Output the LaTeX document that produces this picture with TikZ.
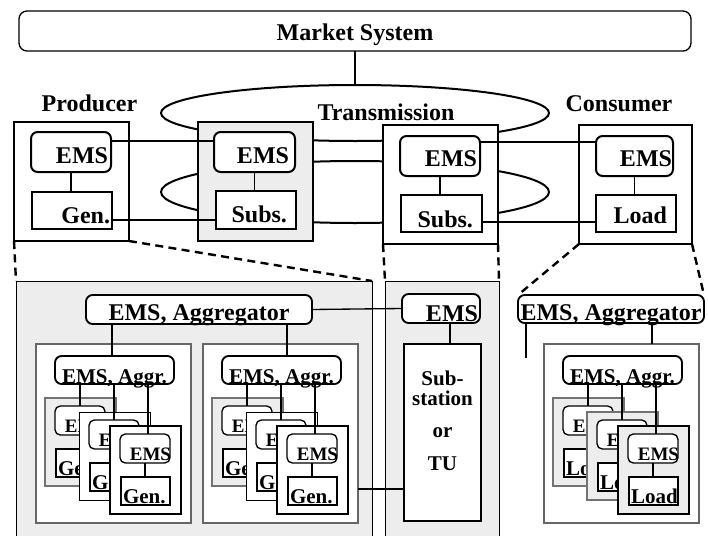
\documentclass[tikz,border=0pt]{standalone}
\usepackage{fontspec}
\setmainfont{Liberation Serif}
\usetikzlibrary{calc}
\definecolor{gfill}{gray}{0.93}
\tikzset{
  every node/.style={inner sep=0pt, outer sep=0pt},
  bigT/.style={font=\fontsize{18}{20}\selectfont\bfseries},
  midT/.style={font=\fontsize{15.75}{17}\selectfont\bfseries},
  smlT/.style={font=\fontsize{14.25}{16}\selectfont\bfseries},
  devT/.style={font=\fontsize{15.75}{17}\selectfont\bfseries},
  mktbox/.style={draw, line width=1pt, rounded corners=6pt, fill=white},
  outerbox/.style={draw, line width=1.2pt, fill=white},
  outergray/.style={draw, line width=1.2pt, fill=gfill},
  emsbox/.style={draw, line width=1.5pt, rounded corners=5pt, fill=white},
  devbox/.style={draw, line width=1.5pt, fill=white},
  conn/.style={line width=1pt},
  connb/.style={line width=1.3pt},
  thickc/.style={line width=2.2pt},
  ring/.style={line width=1.5pt},
  dashc/.style={line width=1.8pt, dash pattern=on 6pt off 4pt},
  bigbox/.style={draw, line width=0.7pt, fill=gfill},
  grpbox/.style={draw=black!60, line width=0.8pt, fill=white},
  aggbox/.style={draw, line width=1.4pt, rounded corners=5pt, fill=white},
  layerGray/.style={draw=black!55, line width=0.8pt, fill=gfill},
  layerWhite/.style={draw, line width=0.7pt, fill=white},
  layerFrontW/.style={draw, line width=1.6pt, fill=white},
  layerFrontG/.style={draw, line width=1.6pt, fill=gfill},
  uems/.style={draw, line width=1pt, rounded corners=4pt, fill=white},
  udev/.style={draw, line width=1.2pt, fill=white},
  subbox/.style={draw, line width=0.8pt, fill=white},
}
% box node from corner (x1,y1) to (x2,y2)
\newcommand\mkbx[6]{%
  \node[#6, anchor=north west, minimum width={((#4)-(#2))*0.75pt},
        minimum height={((#5)-(#3))*0.75pt}] (#1) at ({#2},{#3}) {};}
% one stacked unit
\newcommand\mkunit[5]{%
  \mkbx{#1}{#2}{#3}{(#2)+71}{(#3)+88}{#4}
  \mkbx{#1e}{(#2)+10}{(#3)+8}{(#2)+60}{(#3)+37}{uems}
  \mkbx{#1d}{(#2)+11}{(#3)+51}{(#2)+60}{(#3)+79}{udev}
  \draw[conn] (#1e.south) -- (#1e.south |- #1d.north);
  \node[smlT, anchor=base east] (#1et) at ($(#1e.south east)+(1,-3)$) {EMS};
  \node[devT, anchor=base west] (#1dt) at ($(#1d.south west)+(2,-2)$) {#5};}
% one group of three units
\newcommand\mkgrp[6]{%
  \mkbx{#1}{#2}{344}{(#2)+155}{523}{grpbox}
  \mkbx{#1agg}{(#2)+19}{356}{(#2)+138}{384}{aggbox}
  \node[midT, anchor=base] (#1aggt) at ($(#1agg.south)+(0,-1)$) {EMS, Aggr.};
  \mkunit{#1a}{(#2)+9}{398}{#4}{#3}
  \draw[conn] (#1ae.north) -- (#1ae.north |- #1agg.south);
  \mkunit{#1b}{(#2)+43}{412}{#5}{#3}
  \draw[conn] (#1be.north) -- (#1be.north |- #1agg.south);
  \mkunit{#1c}{(#2)+74}{426}{#6}{#3}
  \draw[conn] ($(#1ce.north)+(3,0)$) -- ($(#1ce.north |- #1agg.south)+(3,0)$);}
\begin{document}
\begin{tikzpicture}[x=0.75pt, y=-0.75pt]
\useasboundingbox (0,0) rectangle (708,536);
% rings
\draw[ring] (355,113) ellipse [x radius=194, y radius=28];
\draw[ring] (355,192) ellipse [x radius=194, y radius=31];
\coordinate (ringtop) at (355,85);
% market
\mkbx{mkt}{19}{11}{691}{51}{mktbox}
\node[bigT, anchor=base] (mktt) at ($(mkt.south)+(0,-11)$) {Market System};
\draw[connb] (mkt.south) -- (ringtop);
% titles
\node[bigT, anchor=base] (prod) at (89.5,111) {Producer};
\node[bigT, anchor=base] (tran) at (386,120) {Transmission};
\node[bigT, anchor=base] (cons) at (619,111) {Consumer};
% top boxes
\mkbx{b1}{14}{122}{129}{241}{outerbox}
\mkbx{b1e}{31}{132}{111}{172}{emsbox}
\mkbx{b1g}{32}{192}{112}{229}{devbox}
\mkbx{b2}{198}{122}{313}{241}{outergray}
\mkbx{b2e}{214}{132}{295}{172}{emsbox}
\mkbx{b2s}{216}{191}{296}{229}{devbox}
\mkbx{b3}{383}{125}{498}{244}{outerbox}
\mkbx{b3e}{400}{136}{480}{176}{emsbox}
\mkbx{b3s}{401}{195}{482}{232}{devbox}
\mkbx{b4}{579}{125}{692}{244}{outerbox}
\mkbx{b4e}{596}{136}{673}{176}{emsbox}
\mkbx{b4l}{596}{195}{676}{232}{devbox}
\node[bigT, anchor=base east] (b1et) at ($(b1e.south east)+(-3,-9)$) {EMS};
\node[bigT, anchor=base east] (b1gt) at ($(b1g.south east)+(-2,-6)$) {Gen.};
\node[bigT, anchor=base east] (b2et) at ($(b2e.south east)+(-6,-9)$) {EMS};
\node[bigT, anchor=base east] (b2st) at ($(b2s.south east)+(-9,-7)$) {Subs.};
\node[bigT, anchor=base east] (b3et) at ($(b3e.south east)+(-3,-10)$) {EMS};
\node[bigT, anchor=base east] (b3st) at ($(b3s.south east)+(-9,-5)$) {Subs.};
\node[bigT, anchor=base east] (b4et) at ($(b4e.south east)+(-1,-10)$) {EMS};
\node[bigT, anchor=base east] (b4lt) at ($(b4l.south east)+(-9,-9)$) {Load};
\draw[conn] (b1e.south) -- (b1e.south |- b1g.north);
\draw[conn] (b2e.south) -- (b2e.south |- b2s.north);
\draw[conn] (b3e.south) -- (b3e.south |- b3s.north);
\draw[conn] (b4e.south) -- (b4e.south |- b4l.north);
\coordinate (h1) at (0,141);
\coordinate (h2) at (0,220);
\coordinate (h3) at (0,142);
\coordinate (h4) at (0,222);
\draw[conn] (b1e.east |- h1) -- (b2e.west |- h1);
\draw[connb] (b1g.east |- h2) -- (b2s.west |- h2);
\draw[conn] (b3e.east |- h3) -- (b4e.west |- h3);
\draw[connb] (b3s.east |- h4) -- (b4l.west |- h4);
% lower big boxes
\mkbx{big1}{16}{281}{372}{560}{bigbox}
\mkbx{big2}{385}{281}{499}{560}{bigbox}
\mkbx{ragg}{518}{295}{704}{323}{aggbox}
\draw[dashc] (b1.south west) -- (big1.north west);
\draw[dashc] (b1.south east) -- (big1.north east);
\draw[dashc] (b3.south west) -- (big2.north west);
\draw[dashc] (b3.south east) -- (big2.north east);
\draw[dashc] (b4.south west) -- (ragg.north west);
\draw[dashc] (b4.south east) -- (ragg.north east);
% producer side
\mkbx{agg1}{86}{295}{312}{324}{aggbox}
\node[bigT, anchor=base] (agg1t) at ($(agg1.south)+(0,-4)$) {EMS, Aggregator};
\mkgrp{pg}{36}{Gen.}{layerGray}{layerWhite}{layerFrontW}
\mkgrp{ph}{203}{Gen.}{layerGray}{layerWhite}{layerFrontW}
\coordinate (v1) at (112,0);
\coordinate (v2) at (287,0);
\draw[conn] (v1 |- agg1.south) -- (v1 |- pgagg.north);
\draw[conn] (v2 |- agg1.south) -- (v2 |- phagg.north);
% transmission side
\mkbx{trems}{402}{294}{480}{323}{aggbox}
\node[bigT, anchor=base east] (tremst) at ($(trems.south east)+(-2,-1.5)$) {EMS};
\draw[conn] (agg1.east) -- (trems.west);
\mkbx{sub}{404}{344}{481}{521}{subbox}
\coordinate (tx) at ($(trems.south)+(9,0)$);
\draw[conn] (tx) -- (tx |- sub.north);
\node[midT, anchor=base] (st1) at ($(sub.north)+(0,41)$) {Sub-};
\node[midT, anchor=base] (st2) at ($(sub.north)+(0,61)$) {station};
\node[midT, anchor=base] (st3) at ($(sub.north)+(0,93)$) {or};
\node[midT, anchor=base] (st4) at ($(sub.north)+(0,126)$) {TU};
\coordinate (h5) at (0,489);
\draw[thickc] (ph.east |- h5) -- (sub.west |- h5);
% consumer side
\node[bigT, anchor=base] (raggt) at ($(ragg.south)+(0,-3)$) {EMS, Aggregator};
\coordinate (dang) at (526,358);
\draw[conn] (dang |- ragg.south) -- (dang);
\mkgrp{cg}{544}{Load}{layerGray}{layerGray}{layerFrontG}
\coordinate (cx) at (652,344);
\draw[conn] (cx) -- (cx |- ragg.south);
\end{tikzpicture}
\end{document}
